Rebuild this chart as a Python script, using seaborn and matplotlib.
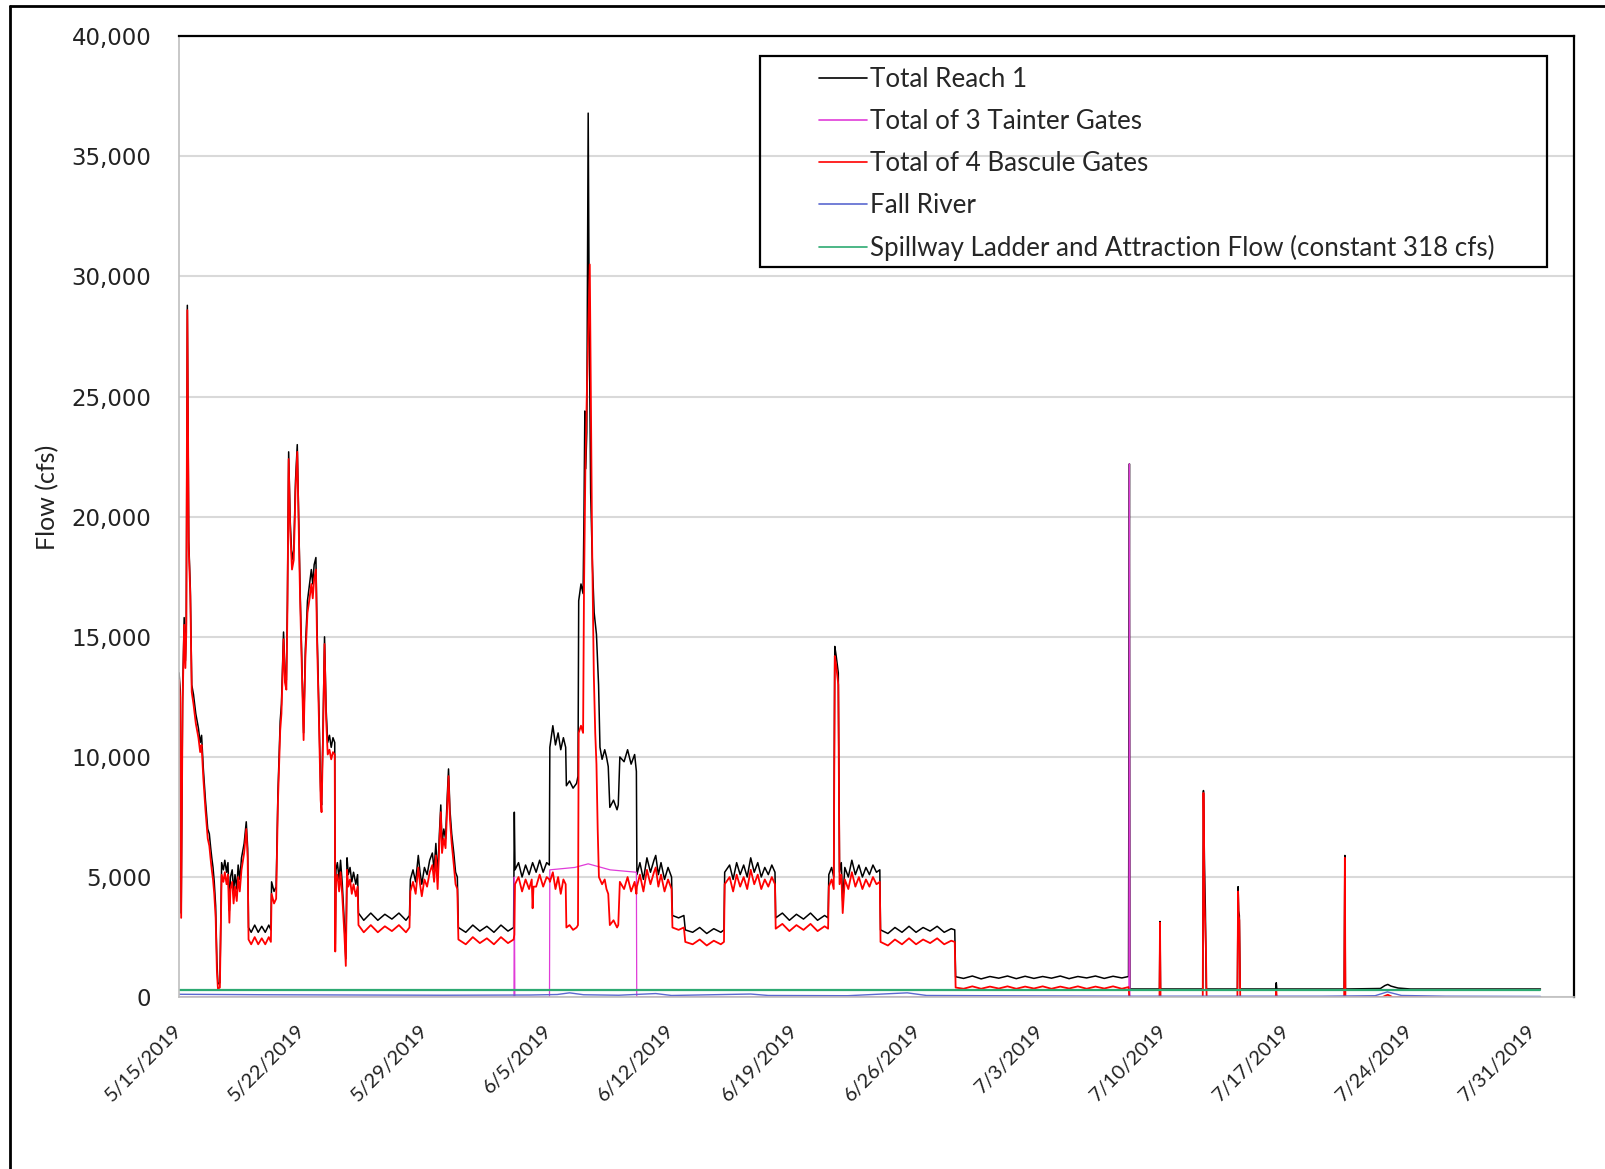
import numpy as np
import pandas as pd
import matplotlib
matplotlib.use("Agg")
import matplotlib.pyplot as plt
from matplotlib.lines import Line2D
from matplotlib.patches import Rectangle
import seaborn as sns

# ---------------- data ----------------
start_date = "2019-05-15"
end_days = 79.3

series_names = ["Total Reach 1", "Total of 3 Tainter Gates", "Total of 4 Bascule Gates",
                "Fall River", "Spillway Ladder and Attraction Flow (constant 318 cfs)"]
series_colors = ["#000000", "#E03CD8", "#FF0000", "#5A68D0", "#2DAA72"]

reach_days = [
    0.00, 0.06, 0.12, 0.20, 0.29, 0.36, 0.41, 0.47, 0.55, 0.64,
    0.72, 0.82, 0.95, 1.10, 1.20, 1.28, 1.38, 1.50, 1.63, 1.72,
    1.80, 1.86, 1.93, 2.00, 2.08, 2.15, 2.21, 2.32, 2.42, 2.52,
    2.60, 2.70, 2.78, 2.86, 2.92, 3.02, 3.10, 3.18, 3.28, 3.36,
    3.45, 3.55, 3.70, 3.82, 3.90, 3.95, 4.10, 4.30, 4.50, 4.70,
    4.90, 5.10, 5.22, 5.26, 5.40, 5.52, 5.62, 5.75, 5.82, 5.94,
    6.02, 6.10, 6.16, 6.23, 6.32, 6.42, 6.52, 6.62, 6.72, 6.80,
    6.88, 7.00, 7.08, 7.18, 7.30, 7.42, 7.52, 7.60, 7.68, 7.78,
    7.84, 7.95, 8.05, 8.10, 8.18, 8.27, 8.36, 8.45, 8.55, 8.65,
    8.75, 8.85, 8.88, 8.92, 9.00, 9.10, 9.18, 9.28, 9.40, 9.48,
    9.55, 9.62, 9.72, 9.82, 9.92, 10.05, 10.15, 10.20, 10.50, 10.90,
    11.30, 11.70, 12.10, 12.50, 12.90, 13.10, 13.15, 13.30, 13.45, 13.60,
    13.70, 13.80, 13.95, 14.10, 14.25, 14.40, 14.50, 14.60, 14.70, 14.80,
    14.88, 14.95, 15.05, 15.15, 15.25, 15.32, 15.40, 15.50, 15.62, 15.72,
    15.82, 15.88, 16.30, 16.70, 17.10, 17.50, 17.90, 18.30, 18.70, 19.02,
    19.06, 19.10, 19.30, 19.50, 19.70, 19.90, 20.10, 20.30, 20.50, 20.70,
    20.90, 21.05, 21.08, 21.25, 21.40, 21.55, 21.70, 21.85, 21.98, 22.02,
    22.20, 22.40, 22.60, 22.68, 22.72, 22.85, 22.97, 23.02, 23.07, 23.12,
    23.18, 23.26, 23.32, 23.40, 23.50, 23.60, 23.73, 23.85, 23.93, 24.05,
    24.20, 24.30, 24.40, 24.49, 24.70, 24.90, 24.97, 25.06, 25.30, 25.50,
    25.70, 25.90, 26.00, 26.03, 26.20, 26.40, 26.60, 26.80, 27.00, 27.10,
    27.25, 27.40, 27.60, 27.80, 28.00, 28.05, 28.40, 28.70, 28.78, 29.20,
    29.60, 30.00, 30.40, 30.80, 30.98, 31.02, 31.30, 31.50, 31.70, 31.90,
    32.10, 32.30, 32.50, 32.70, 32.90, 33.10, 33.30, 33.50, 33.70, 33.88,
    33.92, 34.30, 34.70, 35.10, 35.50, 35.90, 36.30, 36.70, 36.90, 36.94,
    37.10, 37.22, 37.28, 37.36, 37.48, 37.55, 37.65, 37.73, 37.85, 38.05,
    38.25, 38.45, 38.65, 38.85, 39.05, 39.25, 39.45, 39.65, 39.84, 39.88,
    40.30, 40.70, 41.10, 41.50, 41.90, 42.30, 42.70, 43.10, 43.50, 43.90,
    44.10, 44.15, 44.60, 45.10, 45.60, 46.10, 46.60, 47.10, 47.60, 48.10,
    48.60, 49.10, 49.60, 50.10, 50.60, 51.10, 51.60, 52.10, 52.60, 53.10,
    53.60, 53.98, 54.03, 54.06, 55.74, 55.77, 55.80, 58.20, 58.24, 58.30,
    58.35, 58.40, 60.17, 60.21, 60.24, 60.28, 60.33, 62.35, 62.38, 62.41,
    66.24, 66.28, 66.31, 68.30, 68.55, 68.72, 68.90, 69.30, 70.00, 77.40,
]
reach_cfs = [
    13500, 12800, 3500, 12500, 15800, 14000, 15500, 28800, 19000, 17000,
    13000, 12600, 11800, 11200, 10600, 10900, 9500, 8200, 7000, 6800,
    6200, 5800, 5400, 4800, 3800, 1500, 550, 600, 5600, 5300,
    5700, 5200, 5600, 3600, 5000, 5300, 4400, 5100, 4500, 5500,
    4900, 5800, 6400, 7300, 6200, 2900, 2700, 3000, 2700, 2950,
    2700, 3000, 2800, 4800, 4400, 4600, 8500, 11500, 12200, 15200,
    13500, 13200, 16500, 22700, 19800, 18200, 18600, 21500, 23000, 20000,
    17000, 13500, 11000, 14500, 16500, 17200, 17800, 17200, 18000, 18300,
    15500, 12000, 8600, 8000, 11000, 15000, 12000, 10600, 10900, 10400,
    10800, 10600, 2200, 5300, 5600, 4900, 5700, 4700, 3000, 1600,
    5800, 5100, 5400, 4800, 5200, 4700, 5100, 3500, 3200, 3500,
    3200, 3450, 3250, 3500, 3200, 3400, 4900, 5300, 4800, 5900,
    5200, 4700, 5400, 5100, 5700, 6000, 5300, 6400, 5000, 6800,
    8000, 6400, 7000, 6600, 8400, 9500, 7800, 6800, 6000, 5200,
    5000, 2900, 2700, 3000, 2750, 2950, 2700, 3000, 2750, 2900,
    7700, 5300, 5600, 5000, 5500, 5100, 5600, 5200, 5700, 5200,
    5600, 5500, 10400, 11300, 10500, 11000, 10300, 10800, 10400, 8800,
    9000, 8700, 8900, 9200, 16500, 17200, 16800, 20000, 24400, 22000,
    23500, 36800, 28000, 21000, 18000, 16000, 15100, 13000, 10400, 9900,
    10300, 10000, 9600, 7900, 8200, 7800, 8000, 10000, 9800, 10300,
    9700, 10100, 9400, 5100, 5600, 4900, 5800, 5200, 5700, 5900,
    5100, 5600, 4900, 5400, 5000, 3400, 3300, 3400, 2800, 2700,
    2900, 2650, 2850, 2700, 2800, 5200, 5500, 4900, 5600, 5100,
    5500, 5000, 5800, 5200, 5600, 5000, 5400, 5100, 5500, 5200,
    3300, 3500, 3200, 3450, 3250, 3500, 3200, 3400, 3300, 5100,
    5400, 5000, 14600, 14200, 13500, 5200, 5600, 4000, 5400, 5000,
    5700, 5100, 5500, 5000, 5400, 5100, 5500, 5200, 5300, 2800,
    2650, 2900, 2700, 2950, 2700, 2900, 2750, 2950, 2700, 2850,
    2800, 850, 780, 880, 760, 860, 790, 880, 770, 870,
    780, 860, 790, 880, 770, 860, 800, 880, 780, 870,
    800, 860, 22200, 340, 340, 3150, 340, 340, 8600, 5500,
    3600, 340, 340, 4600, 3600, 3400, 340, 340, 600, 340,
    340, 5900, 340, 360, 480, 530, 460, 380, 340, 340,
]

bascule_days = [
    0.00, 0.06, 0.12, 0.20, 0.29, 0.36, 0.41, 0.47, 0.55, 0.64,
    0.72, 0.82, 0.95, 1.10, 1.20, 1.28, 1.38, 1.50, 1.63, 1.72,
    1.80, 1.86, 1.93, 2.00, 2.08, 2.15, 2.21, 2.32, 2.42, 2.52,
    2.60, 2.70, 2.78, 2.86, 2.92, 3.02, 3.10, 3.18, 3.28, 3.36,
    3.45, 3.55, 3.70, 3.82, 3.90, 3.95, 4.10, 4.30, 4.50, 4.70,
    4.90, 5.10, 5.22, 5.26, 5.40, 5.52, 5.62, 5.75, 5.82, 5.94,
    6.02, 6.10, 6.16, 6.23, 6.32, 6.42, 6.52, 6.62, 6.72, 6.80,
    6.88, 7.00, 7.08, 7.18, 7.30, 7.42, 7.52, 7.60, 7.68, 7.78,
    7.84, 7.95, 8.05, 8.10, 8.18, 8.27, 8.36, 8.45, 8.55, 8.65,
    8.75, 8.85, 8.88, 8.92, 9.00, 9.10, 9.18, 9.28, 9.40, 9.48,
    9.55, 9.62, 9.72, 9.82, 9.92, 10.05, 10.15, 10.20, 10.50, 10.90,
    11.30, 11.70, 12.10, 12.50, 12.90, 13.10, 13.15, 13.30, 13.45, 13.60,
    13.70, 13.80, 13.95, 14.10, 14.25, 14.40, 14.50, 14.60, 14.70, 14.80,
    14.88, 14.95, 15.05, 15.15, 15.25, 15.32, 15.40, 15.50, 15.62, 15.72,
    15.82, 15.88, 16.30, 16.70, 17.10, 17.50, 17.90, 18.30, 18.70, 19.02,
    19.06, 19.10, 19.30, 19.50, 19.70, 19.90, 20.05, 20.10, 20.15, 20.30,
    20.50, 20.70, 20.90, 21.05, 21.08, 21.25, 21.40, 21.55, 21.70, 21.85,
    21.98, 22.02, 22.20, 22.40, 22.60, 22.68, 22.72, 22.85, 22.97, 23.02,
    23.10, 23.18, 23.35, 23.42, 23.48, 23.58, 23.66, 23.73, 23.80, 23.87,
    24.05, 24.20, 24.30, 24.40, 24.49, 24.70, 24.90, 24.97, 25.06, 25.30,
    25.50, 25.70, 25.90, 26.00, 26.03, 26.20, 26.40, 26.60, 26.80, 27.00,
    27.10, 27.25, 27.40, 27.60, 27.80, 28.00, 28.05, 28.40, 28.70, 28.78,
    29.20, 29.60, 30.00, 30.40, 30.80, 30.98, 31.02, 31.30, 31.50, 31.70,
    31.90, 32.10, 32.30, 32.50, 32.70, 32.90, 33.10, 33.30, 33.50, 33.70,
    33.88, 33.92, 34.30, 34.70, 35.10, 35.50, 35.90, 36.30, 36.70, 36.90,
    36.94, 37.10, 37.22, 37.28, 37.36, 37.48, 37.55, 37.65, 37.73, 37.85,
    38.05, 38.25, 38.45, 38.65, 38.85, 39.05, 39.25, 39.45, 39.65, 39.84,
    39.88, 40.30, 40.70, 41.10, 41.50, 41.90, 42.30, 42.70, 43.10, 43.50,
    43.90, 44.10, 44.15, 44.60, 45.10, 45.60, 46.10, 46.60, 47.10, 47.60,
    48.10, 48.60, 49.10, 49.60, 50.10, 50.60, 51.10, 51.60, 52.10, 52.60,
    53.10, 53.60, 53.98, 54.03, 55.74, 55.77, 55.80, 58.20, 58.24, 58.30,
    58.38, 58.42, 60.17, 60.21, 60.24, 60.28, 60.33, 62.35, 62.38, 62.41,
    66.24, 66.28, 66.31, 68.40, 68.72, 69.00, 77.40,
]
bascule_cfs = [
    13200, 12500, 3300, 12200, 15500, 13700, 15200, 28600, 18700, 16700,
    12700, 12200, 11400, 10800, 10200, 10500, 9100, 7800, 6600, 6300,
    5700, 5300, 4900, 4300, 3300, 1100, 350, 400, 5100, 4800,
    5200, 4700, 5100, 3100, 4500, 4800, 3900, 4600, 4000, 5000,
    4400, 5300, 6000, 7000, 5800, 2400, 2200, 2500, 2200, 2450,
    2200, 2500, 2300, 4300, 3900, 4100, 8100, 11100, 11800, 14900,
    13100, 12800, 16100, 22400, 19400, 17800, 18200, 21100, 22700, 19600,
    16600, 13100, 10700, 14100, 16000, 16600, 17200, 16600, 17400, 17800,
    15000, 11600, 8200, 7700, 10600, 14700, 11600, 10100, 10300, 9900,
    10200, 10100, 1900, 4800, 5100, 4400, 5200, 4200, 2600, 1300,
    5300, 4600, 4900, 4300, 4700, 4200, 4600, 3000, 2700, 3000,
    2700, 2950, 2750, 3000, 2700, 2900, 4400, 4800, 4300, 5400,
    4700, 4200, 4900, 4600, 5200, 5500, 4800, 5900, 4500, 6400,
    7700, 6000, 6600, 6200, 8000, 9200, 7400, 6400, 5500, 4700,
    4500, 2400, 2200, 2500, 2250, 2450, 2200, 2500, 2250, 2400,
    2600, 4700, 5000, 4400, 4900, 4500, 4900, 3700, 4600, 4600,
    5100, 4600, 5000, 4900, 4800, 5200, 4500, 5000, 4300, 4900,
    4700, 2900, 3000, 2800, 2900, 3000, 11000, 11300, 11000, 16800,
    22000, 25000, 30500, 24000, 19000, 13400, 11000, 9700, 7000, 5000,
    4700, 4900, 4500, 4300, 3000, 3200, 2900, 3000, 4800, 4500,
    5000, 4400, 4800, 4300, 4600, 5100, 4400, 5300, 4700, 5200,
    5400, 4600, 5100, 4400, 4900, 4500, 2900, 2800, 2900, 2300,
    2200, 2400, 2150, 2350, 2200, 2300, 4700, 5000, 4400, 5100,
    4600, 5000, 4500, 5300, 4700, 5100, 4500, 4900, 4600, 5000,
    4700, 2850, 3050, 2750, 3000, 2800, 3050, 2750, 2950, 2850,
    4600, 4900, 4500, 14200, 13800, 13000, 4700, 5100, 3500, 4900,
    4500, 5200, 4600, 5000, 4500, 4900, 4600, 5000, 4700, 4800,
    2300, 2150, 2400, 2200, 2450, 2200, 2400, 2250, 2450, 2200,
    2350, 2300, 400, 350, 450, 350, 440, 360, 450, 350,
    440, 360, 450, 350, 440, 360, 450, 350, 440, 360,
    450, 350, 420, 0, 0, 3100, 0, 0, 8500, 4000,
    2000, 0, 0, 4400, 3400, 3200, 0, 0, 250, 0,
    0, 5800, 0, 0, 100, 0, 0,
]

tainter_days = [0.0, 19.04, 19.06, 19.09, 21.06, 21.08, 22.5, 23.26, 24.5, 26.0,
                26.02, 54.0, 54.03, 54.06, 77.4]
tainter_cfs = [0, 0, 5000, 0, 0, 5300, 5400, 5550, 5300, 5200,
               0, 0, 22200, 0, 0]

fall_days = [0, 5, 10, 15, 20, 21.5, 22.2, 23, 25, 27.1, 28, 32.5, 33.5, 38,
             41.4, 42.5, 46, 50, 54, 60, 65, 68.0, 68.7, 69.5, 72, 77.4]
fall_cfs = [120, 100, 90, 80, 90, 110, 180, 100, 80, 150, 70, 130, 70, 60,
            180, 70, 60, 50, 40, 40, 40, 60, 220, 70, 40, 30]

spill_days = [0.0, 77.4]
spill_cfs = [318, 318]

tick_dates = ["2019-05-15", "2019-05-22", "2019-05-29", "2019-06-05", "2019-06-12",
              "2019-06-19", "2019-06-26", "2019-07-03", "2019-07-10", "2019-07-17",
              "2019-07-24", "2019-07-31"]
tick_labels = ["5/15/2019", "5/22/2019", "5/29/2019", "6/5/2019", "6/12/2019",
               "6/19/2019", "6/26/2019", "7/3/2019", "7/10/2019", "7/17/2019",
               "7/24/2019", "7/31/2019"]
y_ticks = [0, 5000, 10000, 15000, 20000, 25000, 30000, 35000, 40000]

# ---------------- build frame ----------------
t0 = pd.Timestamp(start_date)
parts = []
for name, d, v in [(series_names[0], reach_days, reach_cfs),
                   (series_names[1], tainter_days, tainter_cfs),
                   (series_names[2], bascule_days, bascule_cfs),
                   (series_names[3], fall_days, fall_cfs),
                   (series_names[4], spill_days, spill_cfs)]:
    assert len(d) == len(v), name
    parts.append(pd.DataFrame({"date": t0 + pd.to_timedelta(np.array(d), unit="D"),
                               "cfs": v, "series": name}))

# ---------------- plot ----------------
sns.set_theme(style="white")
plt.rcParams["font.family"] = ["DejaVu Sans"]

fig = plt.figure(figsize=(16.06, 11.69), dpi=100)
ax = fig.add_axes([0.1115, 0.147, 0.8685, 0.822])

widths = [1.1, 0.9, 1.3, 1.0, 1.6]
for df, col, lw in zip(parts, series_colors, widths):
    sns.lineplot(data=df, x="date", y="cfs", color=col, linewidth=lw,
                 estimator=None, sort=False, ax=ax, legend=False)

ax.set_ylim(0, 40000)
ax.set_xlim(t0, t0 + pd.Timedelta(days=end_days))
ax.set_yticks(y_ticks)
ax.set_yticklabels([f"{v:,}" for v in y_ticks], fontsize=16.5, color="#222222")
ax.set_xticks(pd.to_datetime(tick_dates))
ax.set_xticklabels(tick_labels, rotation=45, ha="right", va="center",
                   rotation_mode="anchor", fontsize=14.5, family="Lato", color="#222222")
ax.tick_params(axis="both", length=0)
ax.tick_params(axis="y", pad=20)
ax.tick_params(axis="x", pad=22)
ax.set_xlabel("")
ax.set_ylabel("Flow (cfs)", fontsize=18, family="Lato", color="#222222")
ax.yaxis.set_label_coords(-0.086, 0.52)

ax.grid(axis="y", color="#D9D9D9", linewidth=1.5)
ax.grid(axis="x", visible=False)
ax.set_axisbelow(True)
for s in ["top", "right"]:
    ax.spines[s].set_color("black")
    ax.spines[s].set_linewidth(1.6)
for s in ["left", "bottom"]:
    ax.spines[s].set_color("#BFBFBF")
    ax.spines[s].set_linewidth(1.2)

# legend
handles = [Line2D([0], [0], color=c, lw=1.2) for c in series_colors]
leg = ax.legend(handles, series_names, loc="upper left",
                bbox_to_anchor=(0.4588, 0.968), frameon=False,
                prop={"family": "Lato", "size": 18.7},
                handlelength=1.85, handletextpad=0.1, labelspacing=0.65,
                borderpad=0, borderaxespad=0)
ax.add_patch(Rectangle((0.4165, 0.7596), 0.981 - 0.4165, 0.979 - 0.7596,
                       transform=ax.transAxes, fill=False, edgecolor="black",
                       linewidth=1.6, zorder=5))

# outer figure border (top and left visible)
fig.add_artist(Line2D([0.0062, 0.0062], [0.0, 0.9949], color="black", lw=2,
                      transform=fig.transFigure))
fig.add_artist(Line2D([0.0062, 1.0], [0.9949, 0.9949], color="black", lw=2,
                      transform=fig.transFigure))

fig.savefig("out.png", dpi=100, facecolor="white")
